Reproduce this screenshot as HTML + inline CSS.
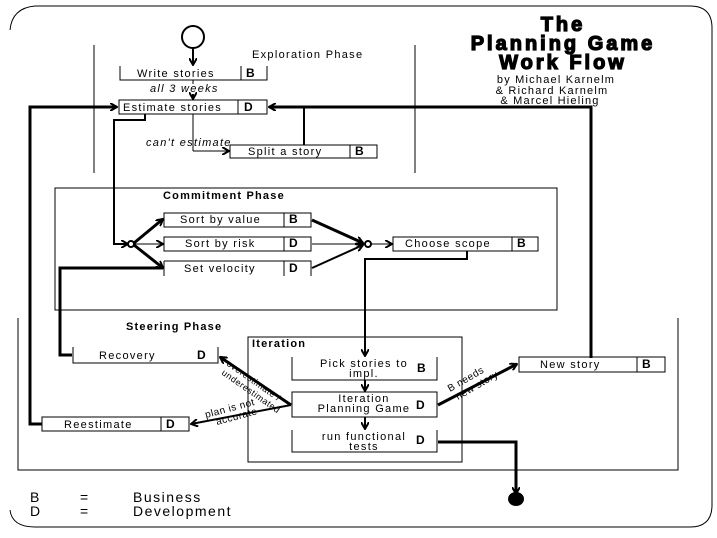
<!DOCTYPE html>
<html><head><meta charset="utf-8"><style>
html,body{margin:0;padding:0;background:#fff;}
svg{display:block;font-family:"Liberation Sans",sans-serif;}
.t{font-size:11px;fill:#000;letter-spacing:1.3px;}
.b{font-size:12px;font-weight:bold;letter-spacing:0;}
.i{font-style:italic;}
.h{font-weight:bold;letter-spacing:1.2px;}
</style></head><body>
<svg width="717" height="538" viewBox="0 0 717 538">
<defs>
<marker id="a" markerWidth="8" markerHeight="8" refX="7" refY="4" orient="auto" markerUnits="userSpaceOnUse">
<path d="M0,0 L7,4 L0,8" fill="none" stroke="#000" stroke-width="2"/></marker>
</defs>
<g fill="none" stroke="#000">
<path d="M35,6 H690 Q712,6 712,28 V505 Q712,527 690,527 H35 Q12,527 10,510" stroke-width="1"/>
<path d="M10,30 Q12,8 35,6" stroke-width="1"/>
<line x1="94" y1="45" x2="94" y2="173"/>
<line x1="415" y1="45" x2="415" y2="173"/>
<circle cx="193" cy="37" r="11" stroke-width="2"/>
<line x1="193" y1="48" x2="193" y2="65" stroke-width="2" marker-end="url(#a)"/>
<path d="M120,66 V80 H267 V66 M241,66 V80"/>
<line x1="193" y1="80" x2="193" y2="84"/>
<line x1="193" y1="94" x2="193" y2="99" stroke-width="2" marker-end="url(#a)"/>
<rect x="119" y="100" width="148" height="14"/>
<line x1="238" y1="100" x2="238" y2="114"/>
<rect x="230" y="145" width="147" height="13"/>
<line x1="350" y1="145" x2="350" y2="158"/>
<line x1="193" y1="114" x2="193" y2="151"/>
<line x1="193" y1="151" x2="229" y2="151" marker-end="url(#a)"/>
<line x1="304" y1="145" x2="304" y2="107" stroke-width="2"/>
<path d="M42,424 H30 V107 H117" stroke-width="3" marker-end="url(#a)"/>
<path d="M591,358 V107 H269" stroke-width="3" marker-end="url(#a)"/>
<path d="M145,114 V120 H114 V244 H128" stroke-width="2" marker-end="url(#a)"/>
<rect x="55" y="188" width="502" height="122"/>
<rect x="164" y="213" width="147" height="14"/><line x1="284" y1="213" x2="284" y2="227"/>
<rect x="164" y="237" width="147" height="14"/><line x1="284" y1="237" x2="284" y2="251"/>
<path d="M164,261 V276 M164,261 H311 V276 M284,261 V276"/>
<circle cx="131" cy="244" r="3" stroke-width="2"/>
<line x1="134" y1="243" x2="163" y2="219" stroke-width="3" marker-end="url(#a)"/>
<line x1="134" y1="244" x2="163" y2="244" stroke-width="1" marker-end="url(#a)"/>
<line x1="134" y1="245" x2="163" y2="268" stroke-width="3" marker-end="url(#a)"/>
<line x1="312" y1="220" x2="363" y2="243" stroke-width="3" marker-end="url(#a)"/>
<line x1="312" y1="244" x2="363" y2="244" marker-end="url(#a)"/>
<line x1="312" y1="268" x2="363" y2="245" stroke-width="2" marker-end="url(#a)"/>
<circle cx="368" cy="244" r="3" stroke-width="2"/>
<line x1="371" y1="244" x2="392" y2="244" marker-end="url(#a)"/>
<rect x="393" y="237" width="145" height="14"/><line x1="512" y1="237" x2="512" y2="251"/>
<path d="M467,251 V259 H365 V356" stroke-width="2" marker-end="url(#a)"/>
<path d="M163,268 H60 V355 H72" stroke-width="3"/>
<path d="M18,318 V470 H678 V318"/>
<rect x="248" y="337" width="214" height="125"/>
<path d="M73,347 V363 H218 V347 M218,349 V363"/>
<path d="M292,357 V380 H437 V357"/>
<line x1="365" y1="380" x2="365" y2="391" stroke-width="2" marker-end="url(#a)"/>
<rect x="292" y="392" width="145" height="25"/>
<line x1="365" y1="417" x2="365" y2="429" stroke-width="2" marker-end="url(#a)"/>
<path d="M292,430 V452 H437 V430"/>
<rect x="42" y="417" width="147" height="14"/><line x1="161" y1="417" x2="161" y2="431"/>
<rect x="519" y="357" width="146" height="15"/><line x1="637" y1="357" x2="637" y2="372"/>
<line x1="291" y1="405" x2="220" y2="357" stroke-width="3" marker-end="url(#a)"/>
<line x1="291" y1="405" x2="191" y2="424" stroke-width="2" marker-end="url(#a)"/>
<line x1="438" y1="405" x2="517" y2="364" stroke-width="3" marker-end="url(#a)"/>
<path d="M438,442 H516 V494" stroke-width="3" marker-end="url(#a)"/>
</g>
<ellipse cx="516" cy="499" rx="8" ry="7" fill="#000"/>
<g class="t">
<text x="252" y="58">Exploration Phase</text>
<text x="137" y="77">Write stories</text><text x="246" y="77" class="b">B</text>
<text x="150" y="92" class="i">all 3 weeks</text>
<text x="123" y="111">Estimate stories</text><text x="244" y="111" class="b">D</text>
<text x="146" y="146" class="i">can't estimate</text>
<text x="248" y="155">Split a story</text><text x="355" y="155" class="b">B</text>
<text x="163" y="199" class="h">Commitment Phase</text>
<text x="180" y="223">Sort by value</text><text x="289" y="223" class="b">B</text>
<text x="185" y="247">Sort by risk</text><text x="289" y="247" class="b">D</text>
<text x="184" y="272">Set velocity</text><text x="289" y="272" class="b">D</text>
<text x="405" y="247">Choose scope</text><text x="517" y="247" class="b">B</text>
<text x="126" y="330" class="h">Steering Phase</text>
<text x="252" y="347" class="h">Iteration</text>
<text x="99" y="359">Recovery</text><text x="197" y="359" class="b">D</text>
<text x="364" y="367" text-anchor="middle">Pick stories to</text>
<text x="364" y="377" text-anchor="middle">impl.</text><text x="417" y="372" class="b">B</text>
<text x="364" y="402" text-anchor="middle">Iteration</text>
<text x="364" y="412" text-anchor="middle">Planning Game</text><text x="416" y="409" class="b">D</text>
<text x="364" y="440" text-anchor="middle">run functional</text>
<text x="364" y="450" text-anchor="middle">tests</text><text x="416" y="444" class="b">D</text>
<text x="64" y="428">Reestimate</text><text x="166" y="428" class="b">D</text>
<text x="540" y="368">New story</text><text x="642" y="368" class="b">B</text>
<text transform="translate(226,365) rotate(35)" style="font-size:9px;letter-spacing:0.5px">overestimate /</text>
<text transform="translate(221,374) rotate(35)" style="font-size:9px;letter-spacing:0.5px">underestimated</text>
<text transform="translate(206,418) rotate(-15)" style="font-size:10px;letter-spacing:0.5px">plan is not</text>
<text transform="translate(217,425) rotate(-15)" style="font-size:10px;letter-spacing:0.5px">accurate</text>
<text transform="translate(450,392) rotate(-30)" style="font-size:10px;letter-spacing:0.5px">B needs</text>
<text transform="translate(458,400) rotate(-30)" style="font-size:10px;letter-spacing:0.5px">new story</text>
<g style="font-size:14px;letter-spacing:1.5px">
<text x="30" y="502">B</text><text x="80" y="502">=</text><text x="133" y="502">Business</text>
<text x="30" y="516">D</text><text x="80" y="516">=</text><text x="133" y="516">Development</text>
</g>
<g style="font-weight:900;font-size:20px;letter-spacing:3px" text-anchor="middle" stroke="#000" stroke-width="1.3">
<text x="563" y="31">The</text>
<text x="563" y="50">Planning Game</text>
<text x="563" y="69">Work Flow</text>
</g>
<g style="font-size:11px;letter-spacing:1.2px" text-anchor="middle">
<text x="556" y="83">by Michael Karnelm</text>
<text x="552" y="94">&amp; Richard Karnelm</text>
<text x="550" y="104">&amp; Marcel Hieling</text>
</g>
</g>
</svg>
</body></html>
